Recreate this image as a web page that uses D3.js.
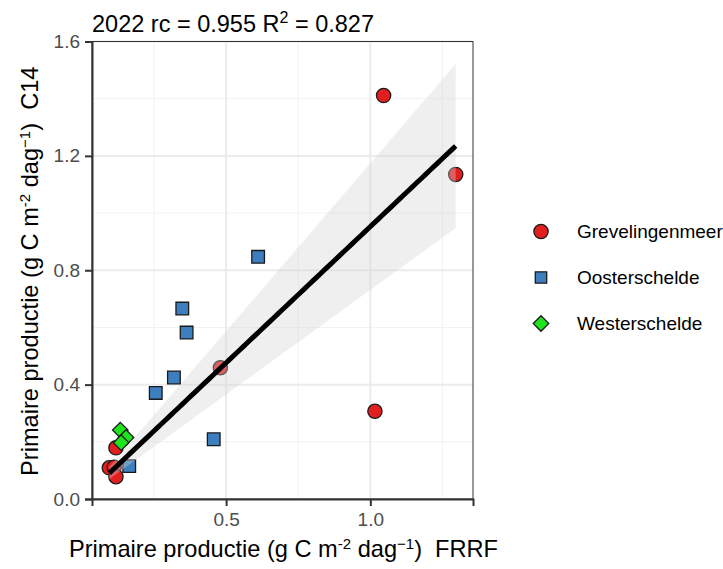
<!DOCTYPE html>
<html>
<head>
<meta charset="utf-8">
<script src="https://cdn.jsdelivr.net/npm/d3@7"></script>
<style>
  body { margin: 0; background: #fff; }
  svg { font-family: "Liberation Sans", Arial, sans-serif; }
</style>
</head>
<body>
<div id="chart"></div>
<script>
// data
const groups = ["Grevelingenmeer", "Oosterschelde", "Westerschelde"];
const grevFrrf = [1.046, 1.296, 1.016, 0.480, 0.118, 0.095, 0.112, 0.118];
const grevC14  = [1.411, 1.135, 0.307, 0.459, 0.179, 0.109, 0.111, 0.078];
const oostFrrf = [0.611, 0.348, 0.363, 0.319, 0.256, 0.457, 0.164];
const oostC14  = [0.847, 0.666, 0.582, 0.425, 0.371, 0.209, 0.115];
const westFrrf = [0.133, 0.153, 0.136];
const westC14  = [0.241, 0.215, 0.197];
const xTicks = [0.5, 1.0];
const xMinor = [0.25, 0.75, 1.25];
const yTicks = [0, 0.4, 0.8, 1.2, 1.6];
const yMinor = [0.2, 0.6, 1.0, 1.4];

const points = [];
grevFrrf.forEach((x, i) => points.push({ x: x, y: grevC14[i], group: groups[0] }));
oostFrrf.forEach((x, i) => points.push({ x: x, y: oostC14[i], group: groups[1] }));
westFrrf.forEach((x, i) => points.push({ x: x, y: westC14[i], group: groups[2] }));

const width = 723;
const height = 569;
const margin = { top: 41.5, right: 250, bottom: 70, left: 92 };

const colors = { "Grevelingenmeer": "#E31E1E", "Oosterschelde": "#3D7EBF", "Westerschelde": "#1EE41E" };
// diamond = square turned 45 degrees (ggplot shape 23)
const shapes = { "Grevelingenmeer": d3.symbolCircle, "Oosterschelde": d3.symbolSquare, "Westerschelde": d3.symbolSquare };
const sizes = { "Grevelingenmeer": 160, "Oosterschelde": 160, "Westerschelde": 120 };
const turns = { "Grevelingenmeer": 0, "Oosterschelde": 0, "Westerschelde": 45 };

const svg = d3.select('#chart')
    .append('svg')
    .attr('width', width)
    .attr('height', height);

// x range = data range with 5% expansion (ggplot default)
const xExt = d3.extent(points, d => d.x);
const xPad = (xExt[1] - xExt[0]) * 0.05;

const scaleX = d3.scaleLinear()
    .domain([xExt[0] - xPad, xExt[1] + xPad])
    .range([margin.left, width - margin.right]);

const scaleY = d3.scaleLinear()
    .domain([0, 1.6])
    .range([height - margin.bottom, margin.top]);

const x0 = margin.left, x1 = width - margin.right;
const y0 = height - margin.bottom, y1 = margin.top;

// grid
svg.append('g').selectAll('line.vminor')
    .data(xMinor).enter().append('line')
    .attr('x1', d => scaleX(d)).attr('x2', d => scaleX(d))
    .attr('y1', y1).attr('y2', y0)
    .attr('stroke', '#F2F2F2').attr('stroke-width', 1);
svg.append('g').selectAll('line.hminor')
    .data(yMinor).enter().append('line')
    .attr('x1', x0).attr('x2', x1)
    .attr('y1', d => scaleY(d)).attr('y2', d => scaleY(d))
    .attr('stroke', '#F2F2F2').attr('stroke-width', 1);
svg.append('g').selectAll('line.vmajor')
    .data(xTicks).enter().append('line')
    .attr('x1', d => scaleX(d)).attr('x2', d => scaleX(d))
    .attr('y1', y1).attr('y2', y0)
    .attr('stroke', '#EBEBEB').attr('stroke-width', 2);
svg.append('g').selectAll('line.hmajor')
    .data(yTicks).enter().append('line')
    .attr('x1', x0).attr('x2', x1)
    .attr('y1', d => scaleY(d)).attr('y2', d => scaleY(d))
    .attr('stroke', '#EBEBEB').attr('stroke-width', 2);

// points
svg.append('g')
    .selectAll('path')
    .data(points)
    .enter()
    .append('path')
    .attr('d', d => d3.symbol(shapes[d.group], sizes[d.group])())
    .attr('transform', d => `translate(${scaleX(d.x)},${scaleY(d.y)}) rotate(${turns[d.group]})`)
    .attr('fill', d => colors[d.group])
    .attr('stroke', '#1a1a1a')
    .attr('stroke-width', 1.3);

// linear fit through the origin (y ~ 0 + x) with 95% confidence band
const n = points.length;
const sxx = d3.sum(points, d => d.x * d.x);
const sxy = d3.sum(points, d => d.x * d.y);
const slope = sxy / sxx;
const sse = d3.sum(points, d => (d.y - slope * d.x) ** 2);
const sRes = Math.sqrt(sse / (n - 1));
const tCrit = 2.11; // t(0.975, df = 17)

const band = d3.range(0, 81).map(i => {
    const x = xExt[0] + (xExt[1] - xExt[0]) * i / 80;
    const fit = slope * x;
    const se = sRes * Math.abs(x) / Math.sqrt(sxx);
    return { x: x, fit: fit, lo: fit - tCrit * se, hi: fit + tCrit * se };
});

svg.append('path')
    .attr('d', d3.area().x(d => scaleX(d.x)).y0(d => scaleY(d.lo)).y1(d => scaleY(d.hi))(band))
    .attr('fill', '#D4D4D4')
    .attr('fill-opacity', 0.36);

svg.append('path')
    .attr('d', d3.line().x(d => scaleX(d.x)).y(d => scaleY(d.fit))(band))
    .attr('fill', 'none')
    .attr('stroke', '#000')
    .attr('stroke-width', 5);

// panel border
svg.append('rect')
    .attr('x', x0).attr('y', y1)
    .attr('width', x1 - x0).attr('height', y0 - y1)
    .attr('fill', 'none')
    .attr('stroke', '#333')
    .attr('stroke-width', 1);

// axes
const xAxis = svg.append('g')
    .attr('transform', `translate(0,${y0})`)
    .call(d3.axisBottom(scaleX).tickValues(xTicks).tickSize(7).tickPadding(7).tickFormat(d3.format('.1f')));
const yAxis = svg.append('g')
    .attr('transform', `translate(${x0},0)`)
    .call(d3.axisLeft(scaleY).tickValues(yTicks).tickSize(7).tickPadding(5).tickFormat(d3.format('.1f')));

[xAxis, yAxis].forEach(ax => {
    ax.select('.domain').attr('stroke', '#333').attr('stroke-width', 2);
    ax.selectAll('.tick line').attr('stroke', '#333').attr('stroke-width', 2);
    ax.selectAll('.tick text')
        .attr('fill', '#4D4D4D')
        .style('font-size', '19px')
        .style('font-family', '"Liberation Sans", Arial, sans-serif');
});

// title
const title = svg.append('text')
    .attr('x', x0)
    .attr('y', 32)
    .style('font-size', '23.5px')
    .attr('fill', '#000');
title.append('tspan').text('2022 rc = 0.955 R');
title.append('tspan').attr('dy', -9).style('font-size', '16px').text('2');
title.append('tspan').attr('dy', 9).text(' = 0.827');

// axis titles
function unitLabel(sel, suffix) {
    sel.append('tspan').text('Primaire productie (g C m');
    sel.append('tspan').attr('dy', -8).style('font-size', '15px').text('-2');
    sel.append('tspan').attr('dy', 8).text(' dag');
    sel.append('tspan').attr('dy', -8).style('font-size', '15px').text('\u22121');
    sel.append('tspan').attr('dy', 8).text(')\u00a0\u00a0' + suffix);
}

const xTitle = svg.append('text')
    .attr('x', (x0 + x1) / 2 + 1)
    .attr('y', 557)
    .attr('text-anchor', 'middle')
    .style('font-size', '23.6px');
unitLabel(xTitle, 'FRRF');

const yTitle = svg.append('text')
    .attr('transform', `translate(38,${(y0 + y1) / 2 + 1}) rotate(-90)`)
    .attr('text-anchor', 'middle')
    .style('font-size', '23.6px');
unitLabel(yTitle, 'C14');

// legend
const legend = svg.append('g')
    .selectAll('g')
    .data(groups)
    .enter()
    .append('g')
    .attr('transform', (d, i) => `translate(541,${231.5 + i * 46})`);

legend.append('path')
    .attr('d', d => d3.symbol(shapes[d], d === groups[1] ? 130 : sizes[d])())
    .attr('transform', d => `rotate(${turns[d]})`)
    .attr('fill', d => colors[d])
    .attr('stroke', '#1a1a1a')
    .attr('stroke-width', 1.3);

legend.append('text')
    .attr('x', 36)
    .attr('dy', '0.35em')
    .style('font-size', '19px')
    .text(d => d);
</script>
</body>
</html>
